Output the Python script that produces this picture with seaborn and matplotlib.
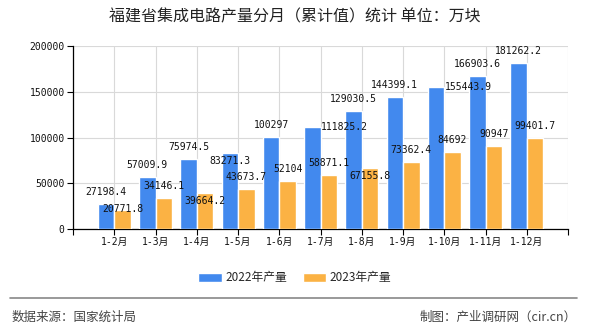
import matplotlib
matplotlib.use("Agg")
import matplotlib.pyplot as plt
import seaborn as sns
import pandas as pd
from matplotlib.patches import Patch
from matplotlib.lines import Line2D

months = ["1-2月", "1-3月", "1-4月", "1-5月", "1-6月", "1-7月", "1-8月", "1-9月", "1-10月", "1-11月", "1-12月"]
v2022 = [27198.4, 57009.9, 75974.5, 83271.3, 100297, 111825.2, 129030.5, 144399.1, 155443.9, 166903.6, 181262.2]
v2023 = [20771.8, 34146.1, 39664.2, 43673.7, 52104, 58871.1, 67155.8, 73362.4, 84692, 90947, 99401.7]
l2022 = ["27198.4", "57009.9", "75974.5", "83271.3", "100297", "111825.2", "129030.5", "144399.1", "155443.9", "166903.6", "181262.2"]
l2023 = ["20771.8", "34146.1", "39664.2", "43673.7", "52104", "58871.1", "67155.8", "73362.4", "84692", "90947", "99401.7"]
series = ["2022年产量", "2023年产量"]
yticks = [0, 50000, 100000, 150000, 200000]

# style: label nudges (pixels) used by the source chart to avoid overlaps
nudge2022 = {3: (0, -20), 5: (32, -12), 8: (32, -12)}
nudge2023 = {0: (0, -11), 2: (0, -20), 6: (0, -20)}

colors = ["#4289EE", "#FBB244"]

df = pd.DataFrame({
    "月份": months * 2,
    "值": v2022 + v2023,
    "系列": [series[0]] * len(months) + [series[1]] * len(months),
})

sns.set_theme(style="white")
mono = ["DejaVu Sans Mono", "Noto Sans CJK SC"]
cjk = ["Noto Sans CJK SC", "DejaVu Sans"]
plt.rcParams["font.family"] = cjk

fig = plt.figure(figsize=(5.9, 3.3), dpi=100)
ax = fig.add_axes([73 / 590, 1 - 229 / 330, 495 / 590, 183 / 330])

sns.barplot(data=df, x="月份", y="值", hue="系列", palette=colors,
            width=0.8, saturation=1, ax=ax, legend=False, zorder=3)

ax.set_xlim(-1, 11)
ax.set_ylim(0, 200000)
ax.set_yticks(yticks)
ax.set_yticklabels([str(v) for v in yticks], family=mono, fontsize=7, color="#111111")
ax.set_xticks(range(-1, 12))
ax.set_xticklabels([""] + months + [""], family=mono, fontsize=7, color="#111111")
ax.set_xlabel("")
ax.set_ylabel("")
ax.grid(True, color="#D9D9D9", linewidth=0.8, zorder=0)
for s in ["top", "right"]:
    ax.spines[s].set_visible(False)
for s in ["left", "bottom"]:
    ax.spines[s].set_color("#000000")
    ax.spines[s].set_linewidth(0.9)
ax.tick_params(axis="both", length=4, width=0.8, color="#000000", pad=2, direction="out")
ax.tick_params(left=True, bottom=True)

for container, labels, nudge in zip(ax.containers, [l2022, l2023], [nudge2022, nudge2023]):
    for i, (rect, lab) in enumerate(zip(container.patches, labels)):
        dx, dy = nudge.get(i, (0, 0))
        ax.annotate(lab, xy=(rect.get_x() + rect.get_width() / 2, rect.get_height()),
                    xytext=(dx, 12 + dy), textcoords="offset pixels",
                    ha="center", va="center", family=mono, fontsize=7, color="#111111",
                    zorder=5, annotation_clip=False)

fig.text(0.5, 1 - 17 / 330, "福建省集成电路产量分月（累计值）统计 单位：万块", ha="center", va="center",
         fontsize=11.5, color="#222222", family=cjk)

handles = [Patch(facecolor=colors[0]), Patch(facecolor=colors[1])]
fig.legend(handles, series, loc="center", bbox_to_anchor=(0.5, 1 - 278 / 330), ncol=2, frameon=False,
           handlelength=2.0, handleheight=0.9, handletextpad=0.3, columnspacing=1.3,
           prop={"family": cjk, "size": 8.5})

fig.add_artist(Line2D([10 / 590, 577 / 590], [1 - 298 / 330, 1 - 298 / 330], color="#888888", linewidth=1.2))
fig.text(12 / 590, 1 - 317 / 330, "数据来源：国家统计局", ha="left", va="center", fontsize=9, color="#444444", family=cjk)
fig.text(577 / 590, 1 - 317 / 330, "制图：产业调研网（cir.cn）", ha="right", va="center", fontsize=9, color="#444444", family=cjk)

fig.savefig("out.png", dpi=100)
